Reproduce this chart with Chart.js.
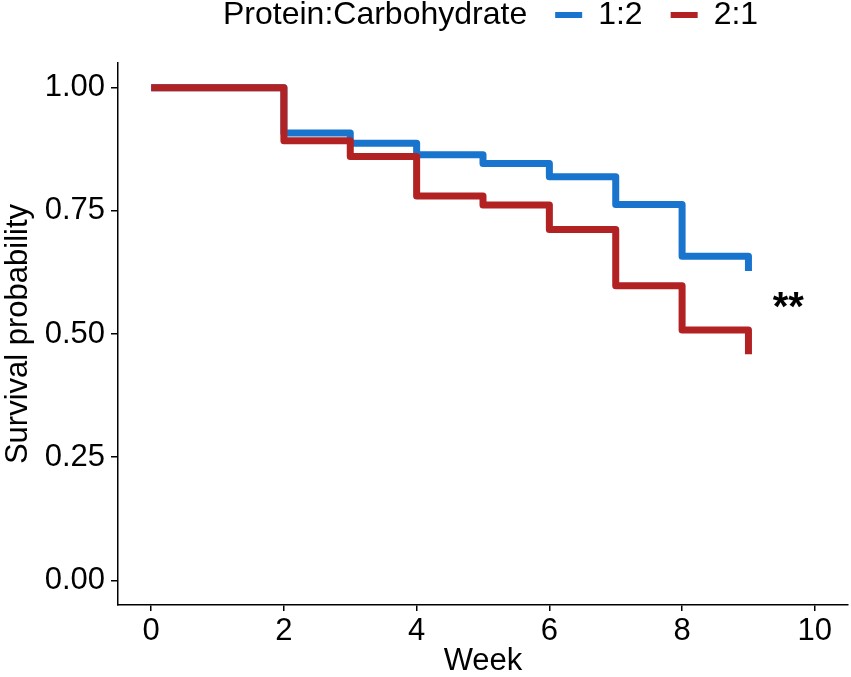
<!DOCTYPE html>
<html>
<head>
<meta charset="utf-8">
<title>Survival probability by diet</title>
<script src="https://cdn.jsdelivr.net/npm/chart.js@4.4.0/dist/chart.umd.min.js"></script>
<style>
  html, body { margin: 0; padding: 0; background: #fff; }
  #wrap { width: 851px; height: 677px; }
</style>
</head>
<body>
<div id="wrap"><canvas id="km"></canvas></div>
<script>
// Kaplan-Meier steps
const weeks = [0, 2, 3, 4, 5, 6, 7, 8, 9];
const survLowPC = [1.00, 0.908, 0.887, 0.864, 0.846, 0.819, 0.763, 0.658, 0.628];   // 1:2
const survHighPC = [1.00, 0.892, 0.860, 0.780, 0.762, 0.712, 0.598, 0.508, 0.459];  // 2:1
const groupLabels = ["1:2", "2:1"];
const legendTitle = "Protein:Carbohydrate";
const xTicks = [0, 2, 4, 6, 8, 10];
const xTickLabels = ["0", "2", "4", "6", "8", "10"];
const yTicks = [0, 0.25, 0.5, 0.75, 1];
const yTickLabels = ["0.00", "0.25", "0.50", "0.75", "1.00"];
const sigMark = "**";
const sigAt = [9.6, 0.55];

const BLUE = "#1874CD";
const RED = "#B22222";
const FONT = "'Liberation Sans', Arial, sans-serif";
Chart.defaults.font.family = FONT;
Chart.defaults.color = "#000";

function pts(ys) {
  return weeks.map((w, i) => ({ x: w, y: ys[i] }));
}

// legend title sits inline before the keys, as in ggplot
const legendNudge = {
  id: "legendNudge",
  afterLayout(chart) {
    const lg = chart.legend;
    const lo = lg.options.labels;
    const pad = lo.padding;
    const x0 = (lg.left + pad + lg.right - lg.lineWidths[0]) / 2;
    const wantX0 = 223 - lo.boxWidth - lo.font.size / 2;
    lg.left += 2 * (wantX0 - x0);
    lg.top -= 22;
    lg.bottom -= 22;
  }
};

const sigLabel = {
  id: "sigLabel",
  afterDatasetsDraw(chart) {
    const { ctx, scales } = chart;
    ctx.save();
    ctx.font = "bold 40px " + FONT;
    ctx.fillStyle = "#000";
    ctx.textAlign = "center";
    ctx.textBaseline = "middle";
    ctx.fillText(sigMark, scales.x.getPixelForValue(sigAt[0]), scales.y.getPixelForValue(sigAt[1]));
    ctx.restore();
  }
};

const ctx = document.getElementById("km");

new Chart(ctx, {
  type: "line",
  data: {
    datasets: [
      {
        label: groupLabels[0],
        data: pts(survLowPC),
        borderColor: BLUE,
        backgroundColor: BLUE,
        order: 1
      },
      {
        label: groupLabels[1],
        data: pts(survHighPC),
        borderColor: RED,
        backgroundColor: RED,
        order: 0
      }
    ]
  },
  options: {
    responsive: true,
    maintainAspectRatio: false,
    animation: false,
    layout: { padding: { left: 0, right: 3, top: -7, bottom: 0 } },
    elements: {
      line: { borderWidth: 7, stepped: "before", fill: false, borderCapStyle: "butt", borderJoinStyle: "round" },
      point: { radius: 0, hoverRadius: 0 }
    },
    plugins: {
      tooltip: { enabled: false },
      legend: {
        position: "top",
        labels: {
          font: { size: 32 },
          color: "#000",
          boxWidth: 27,
          boxHeight: 6,
          padding: 28,
          generateLabels() {
            return [
              { text: legendTitle, fillStyle: "rgba(0,0,0,0)", strokeStyle: "rgba(0,0,0,0)", lineWidth: 0, hidden: false },
              { text: groupLabels[0], fillStyle: BLUE, strokeStyle: BLUE, lineWidth: 0, hidden: false, datasetIndex: 0 },
              { text: groupLabels[1], fillStyle: RED, strokeStyle: RED, lineWidth: 0, hidden: false, datasetIndex: 1 }
            ];
          }
        }
      }
    },
    scales: {
      x: {
        type: "linear",
        min: -0.5,
        max: 10.5,
        afterBuildTicks(s) { s.ticks = xTicks.map(v => ({ value: v })); },
        afterFit(s) { s.height = 72; },
        ticks: {
          font: { size: 31 },
          color: "#000",
          padding: 2,
          maxRotation: 0,
          callback: (v, i) => xTickLabels[i]
        },
        grid: { drawOnChartArea: false, color: "#000", lineWidth: 1.5, tickLength: 6 },
        border: { color: "#000", width: 1.5 },
        title: { display: true, text: "Week", font: { size: 31, lineHeight: 1.0 }, color: "#000", padding: 0 }
      },
      y: {
        min: -0.05,
        max: 1.05,
        afterBuildTicks(s) { s.ticks = yTicks.map(v => ({ value: v })); },
        afterFit(s) { s.width = 118; },
        ticks: {
          font: { size: 31 },
          color: "#000",
          padding: 6,
          callback: (v, i) => yTickLabels[i]
        },
        grid: { drawOnChartArea: false, color: "#000", lineWidth: 1.5, tickLength: 7 },
        border: { color: "#000", width: 1.5 },
        title: { display: true, text: "Survival probability", font: { size: 31 }, color: "#000", padding: 0 }
      }
    }
  },
  plugins: [legendNudge, sigLabel]
});
</script>
</body>
</html>
